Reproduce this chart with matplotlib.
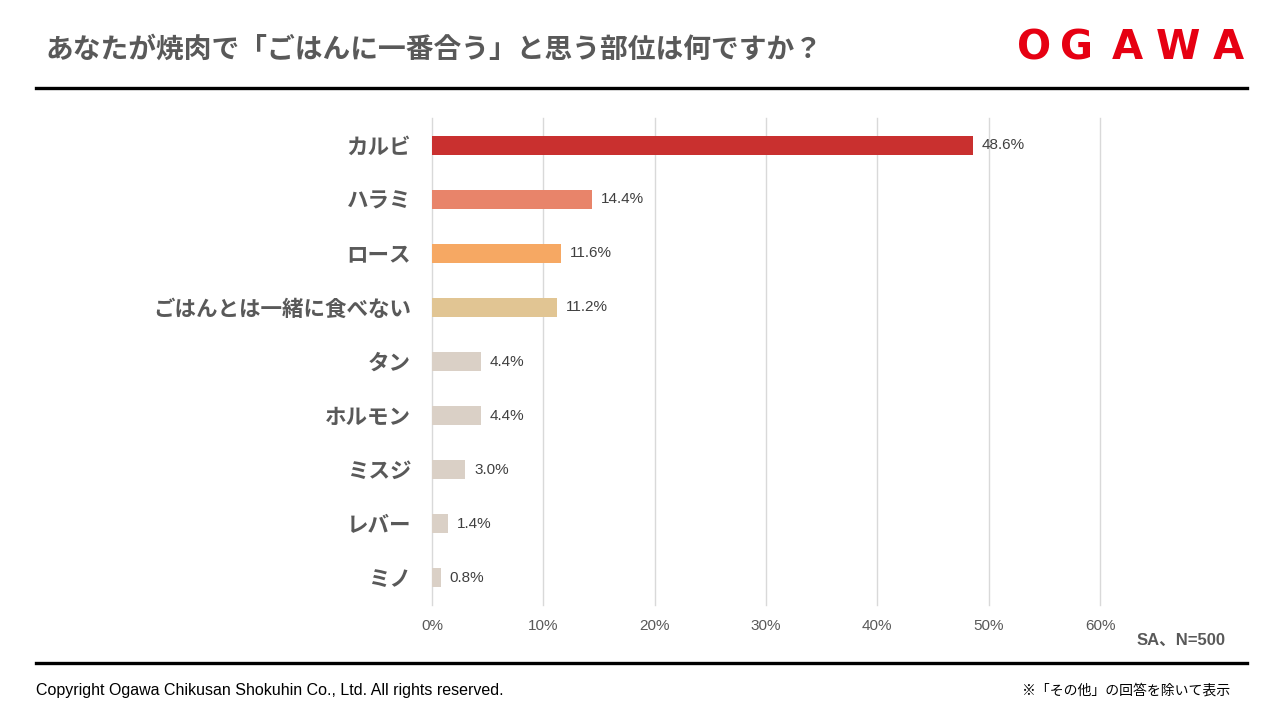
import matplotlib.pyplot as plt
from matplotlib.lines import Line2D

plt.rcParams['font.family'] = ['Liberation Sans', 'Noto Sans CJK JP', 'DejaVu Sans']

# data
parts = ['カルビ', 'ハラミ', 'ロース', 'ごはんとは一緒に食べない', 'タン',
         'ホルモン', 'ミスジ', 'レバー', 'ミノ']
share = [48.6, 14.4, 11.6, 11.2, 4.4, 4.4, 3.0, 1.4, 0.8]
colors = ['#C9302F', '#E8846A', '#F6A863', '#E1C593', '#DAD0C6',
          '#DAD0C6', '#DAD0C6', '#DAD0C6', '#DAD0C6']
xticks = [0, 10, 20, 30, 40, 50, 60]

title = 'あなたが焼肉で「ごはんに一番合う」と思う部位は何ですか？'
gray = '#595959'
jp = ['Noto Sans CJK JP', 'DejaVu Sans']

fig = plt.figure(figsize=(12.8, 7.2), dpi=100)
ax = fig.add_axes([0.3375, 0.1597, 0.521875, 0.6764])

ypos = list(range(len(parts)))
ax.barh(ypos, share, height=0.35, color=colors, zorder=3)
for y, v in zip(ypos, share):
    ax.text(v + 0.8, y, f'{v:.1f}%', va='center', ha='left', fontsize=11,
            color='#404040', clip_on=False)

ax.set_xlim(0, 60)
ax.set_ylim(8.5, -0.5)
ax.set_xticks(xticks)
ax.set_xticklabels([f'{t}%' for t in xticks], fontsize=11, color=gray)
ax.set_yticks(ypos)
ax.set_yticklabels(parts, fontsize=15.5, fontweight='bold', color=gray, family=jp)
ax.tick_params(axis='both', length=0)
ax.tick_params(axis='x', pad=10)
ax.tick_params(axis='y', pad=15)
ax.grid(axis='x', color='#D9D9D9', linewidth=1, zorder=0)
for gl in ax.get_xgridlines():
    gl.set_clip_on(False)
for s in ax.spines.values():
    s.set_visible(False)

# header
fig.text(45 / 1280, 1 - 50 / 720, title, fontsize=20, fontweight='bold',
         color=gray, family=jp, va='center', ha='left')
logo_x = [1034, 1077, 1127, 1178, 1228]
for ch, x in zip('OGAWA', logo_x):
    fig.text(x / 1280, 1 - 48 / 720, ch, fontsize=29, fontweight='heavy',
             color='#E60012', family='DejaVu Sans', ha='center', va='center')

fig.add_artist(Line2D([36 / 1280, 1247 / 1280], [1 - 88 / 720] * 2,
                      color='black', linewidth=2.4, transform=fig.transFigure))
fig.add_artist(Line2D([36 / 1280, 1247 / 1280], [1 - 663 / 720] * 2,
                      color='black', linewidth=2.4, transform=fig.transFigure))

# notes / footer
fig.text(1226 / 1280, 1 - 640 / 720, 'SA、N=500', fontsize=12, fontweight='bold',
         color=gray, ha='right', va='center')
fig.text(36 / 1280, 1 - 691 / 720,
         'Copyright Ogawa Chikusan Shokuhin Co., Ltd. All rights reserved.',
         fontsize=11.5, color='black', ha='left', va='center')
fig.text(1230 / 1280, 1 - 691 / 720, '※「その他」の回答を除いて表示',
         fontsize=10, color='black', family=jp, ha='right', va='center')

fig.savefig('out.png', dpi=100)
